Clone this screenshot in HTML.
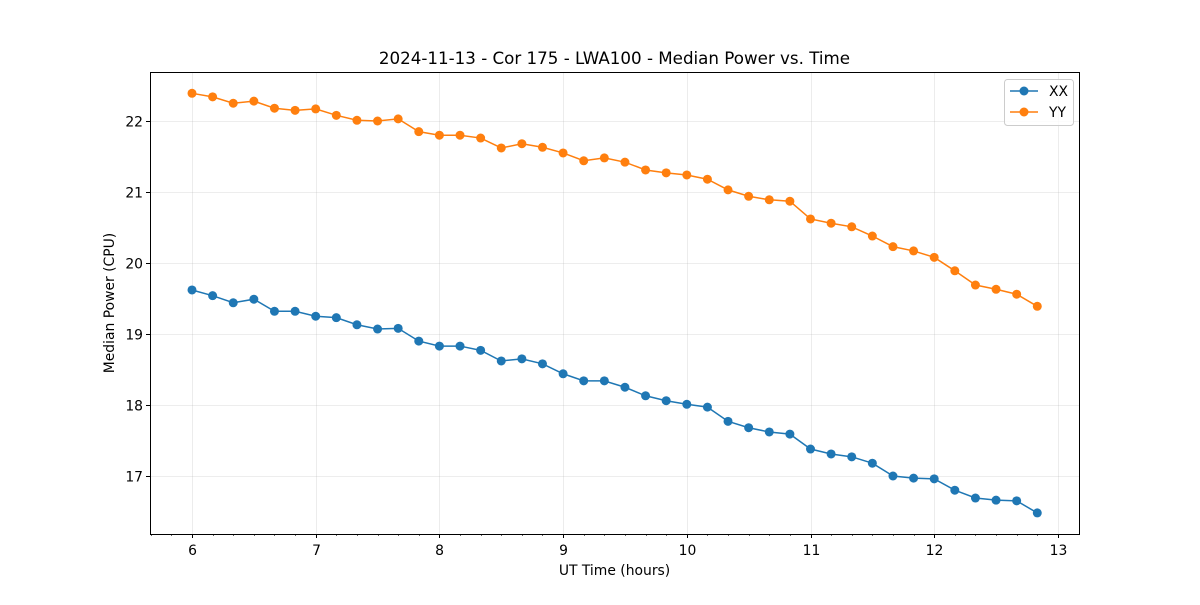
<!DOCTYPE html>
<html><head><meta charset="utf-8"><style>
body{margin:0;background:#fff}
svg text{font-family:"DejaVu Sans","Liberation Sans",sans-serif;fill:#000}
</style></head><body>
<svg id="chart" width="1200" height="600" xmlns="http://www.w3.org/2000/svg">
<rect width="1200" height="600" fill="#fff"/>
<text x="614.5" y="64" font-size="16.7" text-anchor="middle">2024-11-13 - Cor 175 - LWA100 - Median Power vs. Time</text>
<g id="grid"></g>
<g id="ticks"></g>
<g id="series"></g>
<rect x="150.5" y="72.5" width="929" height="462" fill="none" stroke="#000" stroke-width="1"/>
<text x="614.5" y="575" font-size="13.9" text-anchor="middle">UT Time (hours)</text>
<text transform="translate(114,303) rotate(-90)" font-size="13.9" text-anchor="middle">Median Power (CPU)</text>
<g>
<rect x="1004.5" y="79.5" width="69" height="46" rx="3" fill="#fff" fill-opacity="0.8" stroke="#ccc"/>
<g><line x1="1010" y1="91" x2="1038" y2="91" stroke="#1f77b4" stroke-width="1.5"/><circle cx="1024" cy="91" r="4.5" fill="#1f77b4"/><text x="1049" y="96" font-size="13.9">XX</text></g>
<g><line x1="1010" y1="112" x2="1038" y2="112" stroke="#ff7f0e" stroke-width="1.5"/><circle cx="1024" cy="112" r="4.5" fill="#ff7f0e"/><text x="1049" y="117" font-size="13.9">YY</text></g>
</g>
</svg>
<script>
const xxValues=[19.62,19.54,19.44,19.49,19.32,19.32,19.25,19.23,19.13,19.07,19.08,18.90,18.83,18.83,18.77,18.62,18.65,18.58,18.44,18.34,18.34,18.25,18.13,18.06,18.01,17.97,17.77,17.68,17.62,17.59,17.38,17.31,17.27,17.18,17.00,16.97,16.96,16.80,16.69,16.66,16.65,16.48];
const yyValues=[22.39,22.34,22.25,22.28,22.18,22.15,22.17,22.08,22.01,22.00,22.03,21.85,21.80,21.80,21.76,21.62,21.68,21.63,21.55,21.44,21.48,21.42,21.31,21.27,21.24,21.18,21.03,20.94,20.89,20.87,20.62,20.56,20.51,20.38,20.23,20.17,20.08,19.89,19.69,19.63,19.56,19.39];
const xTickLabels=[6,7,8,9,10,11,12,13];
const yTickLabels=[17,18,19,20,21,22];
const times=xxValues.map((v,i)=>6+i/6);
const NS="http://www.w3.org/2000/svg";
const X=t=>192+(t-6)*123.7;
const Y=v=>476-(v-17)*71;
function mk(tag,attrs,parent){const e=document.createElementNS(NS,tag);for(const k in attrs)e.setAttribute(k,attrs[k]);document.getElementById(parent).appendChild(e);return e;}
xTickLabels.forEach(t=>{
  const x=Math.round(X(t))+0.5;
  const g=mk('line',{x1:x,y1:72,x2:x,y2:534,stroke:'#b0b0b0','stroke-opacity':0.3,'stroke-width':0.8},'grid');
  
  
  const tk=mk('line',{x1:x,y1:534,x2:x,y2:538,stroke:'#000'},'ticks');
  
  
  const tx=mk('text',{x:x,y:555,'font-size':13.9,'text-anchor':'middle'},'ticks');
  tx.textContent=t;
  
  
});
for(let k=34;k<=79;k++){const t=k/6;const x=Math.round(X(t))+0.5;if(x<151||x>1079)continue;
  const m=mk('line',{x1:x,y1:534,x2:x,y2:536,stroke:'#000','stroke-width':0.6},'ticks');
  
  
}
yTickLabels.forEach(v=>{
  const y=Math.round(Y(v))+0.5;
  const g=mk('line',{x1:150,y1:y,x2:1079,y2:y,stroke:'#b0b0b0','stroke-opacity':0.3,'stroke-width':0.8},'grid');
  
  
  const tk=mk('line',{x1:146,y1:y,x2:150,y2:y,stroke:'#000'},'ticks');
  
  
  const tx=mk('text',{x:143,y:y+5,'font-size':13.9,'text-anchor':'end'},'ticks');
  tx.textContent=v;
  
  
});
function drawSeries(vals,color,name){
  const pl=mk('polyline',{points:vals.map((v,i)=>X(times[i])+','+Y(v)).join(' '),fill:'none',stroke:color,'stroke-width':1.5},'series');
  
  
  vals.forEach((v,i)=>{
    const c=mk('circle',{cx:X(times[i]),cy:Y(v),r:4.5,fill:color},'series');
    
    
  });
}
drawSeries(xxValues,'#1f77b4','xx');
drawSeries(yyValues,'#ff7f0e','yy');
</script>
</body></html>
